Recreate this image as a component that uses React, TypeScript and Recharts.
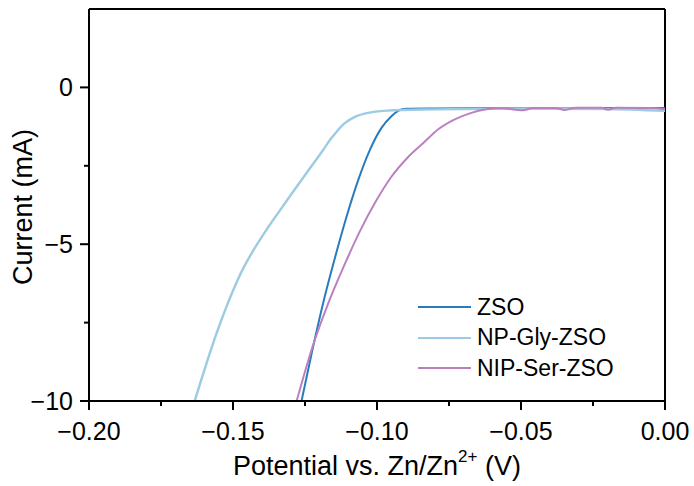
import React from 'react';
import { LineChart, Line, XAxis, YAxis, Legend, ReferenceLine } from 'recharts';

// potential (V) / current (mA)
const zsoV = [-0.1262, -0.1225, -0.1185, -0.1145, -0.1105, -0.1065, -0.1025, -0.0985, -0.095, -0.0925, -0.09, -0.08, -0.06, -0.04, -0.02, 0];
const zsoI = [-10, -8.4, -6.8, -5.4, -4.1, -2.95, -2.0, -1.3, -0.92, -0.74, -0.68, -0.67, -0.66, -0.67, -0.66, -0.66];

const glyV = [-0.1633, -0.1557, -0.1499, -0.1465, -0.1429, -0.1383, -0.1337, -0.1244, -0.1195, -0.116, -0.1115, -0.1075, -0.1036, -0.0966, -0.08, -0.06, -0.04, -0.02, 0];
const glyI = [-10, -7.84, -6.46, -5.78, -5.19, -4.53, -3.92, -2.72, -2.1, -1.64, -1.16, -0.93, -0.82, -0.74, -0.7, -0.68, -0.68, -0.69, -0.75];

const serV = [-0.1279, -0.1225, -0.117, -0.1115, -0.106, -0.1005, -0.095, -0.0895, -0.084, -0.0785, -0.073, -0.0675, -0.062, -0.057, -0.0493, -0.046, -0.038, -0.0347, -0.031, -0.022, -0.0198, -0.017, -0.005, 0];
const serI = [-10, -8.3, -6.9, -5.7, -4.6, -3.65, -2.85, -2.25, -1.78, -1.32, -1.02, -0.82, -0.7, -0.66, -0.73, -0.66, -0.66, -0.72, -0.65, -0.65, -0.71, -0.65, -0.66, -0.7];

const xTicks = [-0.2, -0.175, -0.15, -0.125, -0.1, -0.075, -0.05, -0.025, 0];
const xMajor = [-0.2, -0.15, -0.1, -0.05, 0];
const yTicks = [-10, -7.5, -5, -2.5, 0];
const yMajor = [-10, -5, 0];

const toRows = (v: number[], i: number[]) => v.map((x, k) => ({ x, y: i[k] }));

const series = [
  { name: 'ZSO', color: '#2a7bbd', width: 2, data: toRows(zsoV, zsoI) },
  { name: 'NP-Gly-ZSO', color: '#9dcbe3', width: 2.4, data: toRows(glyV, glyI) },
  { name: 'NIP-Ser-ZSO', color: '#bb80c0', width: 2, data: toRows(serV, serI) },
];

const FONT = '"Liberation Sans", Arial, sans-serif';
const fmt = (v: number, d: number) => (v < 0 ? '\u2212' + Math.abs(v).toFixed(d) : v.toFixed(d));
const isMajor = (list: number[], v: number) => list.some(m => Math.abs(m - v) < 1e-9);

const XTick = (props: any) => {
  const { x, y, payload } = props;
  const major = isMajor(xMajor, payload.value);
  return (
    <g>
      <line x1={x} x2={x} y1={y} y2={y + (major ? 9 : 5)} stroke="#000" strokeWidth={2} />
      {major && (
        <text x={x} y={y + 39} textAnchor="middle" fontSize={25} fontFamily={FONT} fill="#000">
          {fmt(payload.value, 2)}
        </text>
      )}
    </g>
  );
};

const YTick = (props: any) => {
  const { x, y, payload } = props;
  const major = isMajor(yMajor, payload.value);
  return (
    <g>
      <line x1={x} x2={x - (major ? 9 : 5)} y1={y} y2={y} stroke="#000" strokeWidth={2} />
      {major && (
        <text x={x - 16} y={y + 9} textAnchor="end" fontSize={25} fontFamily={FONT} fill="#000">
          {fmt(payload.value, 0)}
        </text>
      )}
    </g>
  );
};

const XLabel = (props: any) => {
  const { viewBox } = props;
  const cx = viewBox.x + viewBox.width / 2;
  return (
    <text x={cx} y={viewBox.y + 74} textAnchor="middle" fontSize={27} fontFamily={FONT} fill="#000">
      Potential vs. Zn/Zn
      <tspan dy={-13} fontSize={17}>2+</tspan>
      <tspan dy={13}> (V)</tspan>
    </text>
  );
};

const YLabel = () => {
  const x = 32;
  const cy = 207;
  return (
    <text x={x} y={cy} transform={`rotate(-90 ${x} ${cy})`} textAnchor="middle" fontSize={27} fontFamily={FONT} fill="#000">
      Current (mA)
    </text>
  );
};

const LegendBox = () => (
  <div style={{ fontFamily: FONT, fontSize: 23, color: '#000' }}>
    {series.map(s => (
      <div key={s.name} style={{ display: 'flex', alignItems: 'center', height: 30.5 }}>
        <div style={{ width: 53, height: s.width, background: s.color, marginRight: 6 }} />
        <span>{s.name}</span>
      </div>
    ))}
  </div>
);

export default function App() {
  return (
    <div style={{ position: 'absolute', left: 0, top: 0, background: '#fff' }}>
      <LineChart width={694} height={486} margin={{ top: 9, right: 29, bottom: 0, left: 0 }}>
        <XAxis
          dataKey="x"
          type="number"
          domain={[-0.2, 0]}
          ticks={xTicks}
          interval={0}
          allowDataOverflow
          height={85}
          tickSize={0}
          tickMargin={0}
          tick={<XTick />}
          axisLine={{ stroke: '#000', strokeWidth: 2 }}
          label={<XLabel />}
        />
        <YAxis
          dataKey="y"
          type="number"
          domain={[-10, 2.5]}
          ticks={yTicks}
          interval={0}
          allowDataOverflow
          width={89}
          tickSize={0}
          tickMargin={0}
          tick={<YTick />}
          axisLine={{ stroke: '#000', strokeWidth: 2 }}
          label={<YLabel />}
        />
        <ReferenceLine y={2.5} stroke="#000" strokeWidth={2} />
        <ReferenceLine x={0} stroke="#000" strokeWidth={2} />
        {series.map(s => (
          <Line
            key={s.name}
            data={s.data}
            dataKey="y"
            name={s.name}
            type="monotone"
            stroke={s.color}
            strokeWidth={s.width}
            dot={false}
            isAnimationActive={false}
          />
        ))}
        <Legend
          layout="vertical"
          align="center"
          verticalAlign="middle"
          content={<LegendBox />}
          wrapperStyle={{ left: 418, top: 292, width: 'auto' }}
        />
      </LineChart>
    </div>
  );
}
